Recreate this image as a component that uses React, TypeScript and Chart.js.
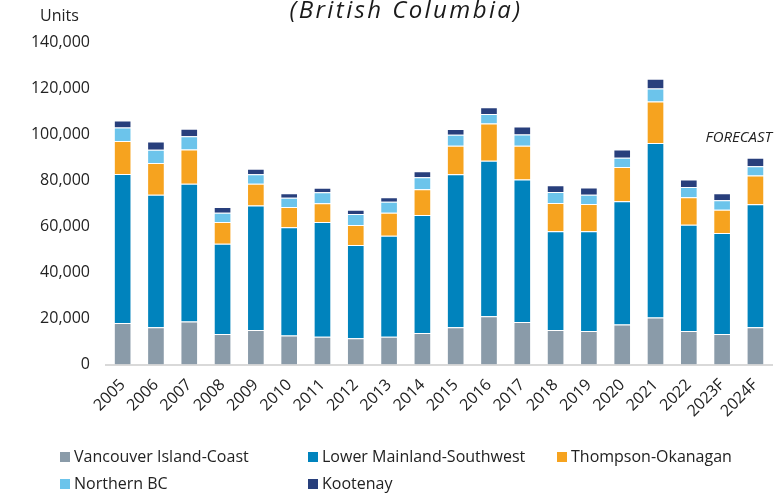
import React, { useEffect, useRef } from "react";
import { Chart, registerables } from "chart.js";

Chart.register(...registerables);

const titleText = "(British Columbia)";
const unitsText = "Units";
const forecastText = "FORECAST";

const years = [
  "2005", "2006", "2007", "2008", "2009", "2010", "2011", "2012", "2013", "2014",
  "2015", "2016", "2017", "2018", "2019", "2020", "2021", "2022", "2023F", "2024F",
];

const seriesNames = [
  "Vancouver Island-Coast",
  "Lower Mainland-Southwest",
  "Thompson-Okanagan",
  "Northern BC",
  "Kootenay",
];

const vancouverIsland = [18000, 16200, 18700, 13200, 15000, 12600, 12000, 11400, 12000, 13700, 16200, 20900, 18500, 15000, 14500, 17400, 20400, 14500, 13200, 16200];
const lowerMainland = [64700, 57500, 59800, 39200, 54000, 47000, 49900, 40500, 43900, 51200, 66400, 67600, 61800, 42800, 43300, 53500, 75800, 46200, 43900, 53400];
const thompsonOkanagan = [14300, 13800, 14800, 9500, 9500, 8800, 8100, 8700, 10000, 11200, 12400, 16100, 14700, 12300, 11900, 14800, 18000, 11900, 10100, 12400];
const northernBC = [5900, 5700, 5800, 4000, 4100, 4000, 4800, 4700, 4800, 5200, 4700, 4100, 4800, 4800, 4000, 4000, 5600, 4500, 4100, 4100];
const kootenay = [3000, 3600, 3200, 2500, 2400, 1900, 1900, 1900, 1900, 2600, 2500, 3000, 3500, 2900, 3100, 3600, 4200, 3200, 3000, 3600];

const yTickMax = 140000;
const yTickStep = 20000;
const forecastLabelValue = 96500;

const colors = ["#8a9ba9", "#0083bd", "#f6a31f", "#6cc4eb", "#283f7c"];

const FONT = '"Open Sans", "Noto Sans", sans-serif';

export default function App() {
  const ref = useRef<HTMLCanvasElement>(null);

  useEffect(() => {
    document.body.style.margin = "0";
    const canvas = ref.current!;
    const seriesData = [vancouverIsland, lowerMainland, thompsonOkanagan, northernBC, kootenay];

    const decor = {
      id: "decor",
      afterDraw(chart: any) {
        const ctx = chart.ctx as CanvasRenderingContext2D;
        ctx.save();
        // title
        ctx.font = `italic 24px ${FONT}`;
        ctx.fillStyle = "#1a1a1a";
        ctx.textAlign = "center";
        ctx.textBaseline = "alphabetic";
        (ctx as any).letterSpacing = "2.4px";
        ctx.fillText(titleText, 406, 18);
        (ctx as any).letterSpacing = "0px";

        // units
        ctx.font = `16px ${FONT}`;
        ctx.fillStyle = "#222";
        ctx.textAlign = "left";
        ctx.fillText(unitsText, 40, 21);

        // forecast
        ctx.font = `italic 15px ${FONT}`;
        ctx.textAlign = "right";
        ctx.fillText(forecastText, chart.chartArea.right, chart.scales.y.getPixelForValue(forecastLabelValue));

        // legend
        const colX = [60, 308, 557];
        const rowBase = [462, 489];
        ctx.font = `16px ${FONT}`;
        ctx.textAlign = "left";
        chart.data.datasets.forEach((ds: any, i: number) => {
          const x = colX[i % 3];
          const yb = rowBase[Math.floor(i / 3)];
          ctx.fillStyle = ds.backgroundColor;
          ctx.fillRect(x, yb - 10, 10, 10);
          ctx.fillStyle = "#222";
          ctx.fillText(ds.label, x + 14, yb);
        });
        ctx.restore();
      },
    };

    const chart = new Chart(canvas, {
      type: "bar",
      data: {
        labels: years,
        datasets: seriesNames.map((name, i) => ({
          label: name,
          data: seriesData[i],
          backgroundColor: colors[i],
          borderColor: "rgba(255,255,255,0.55)",
          borderWidth: 1,
          barPercentage: 0.53,
          categoryPercentage: 1,
        })),
      },
      options: {
        responsive: false,
        animation: false,
        devicePixelRatio: 1,
        layout: { padding: { top: 42, left: 0, right: 0, bottom: 0 } },
        plugins: {
          legend: { display: false },
          title: { display: false },
          tooltip: { enabled: false },
        },
        scales: {
          x: {
            stacked: true,
            grid: { display: false, drawTicks: false },
            border: { display: true, color: "#d9d9d9", width: 2 },
            ticks: {
              font: { family: FONT, size: 16 },
              color: "#222",
              minRotation: 45,
              maxRotation: 45,
              autoSkip: false,
              padding: 11,
            },
            afterFit: (s: any) => {
              s.height = 132.5;
            },
          },
          y: {
            stacked: true,
            min: 0,
            max: yTickMax,
            grid: { display: false, drawTicks: false },
            border: { display: false },
            ticks: {
              stepSize: yTickStep,
              font: { family: FONT, size: 16 },
              color: "#222",
              padding: 16,
              callback: (v: any) => Number(v).toLocaleString("en-US"),
            },
            afterFit: (s: any) => {
              s.width = 106;
            },
          },
        },
      },
      plugins: [decor],
    });
    return () => chart.destroy();
  }, []);

  return (
    <div style={{ width: 780, height: 497, position: "relative" }}>
      <canvas ref={ref} width={780} height={497} style={{ display: "block", width: 780, height: 497 }} />
    </div>
  );
}
